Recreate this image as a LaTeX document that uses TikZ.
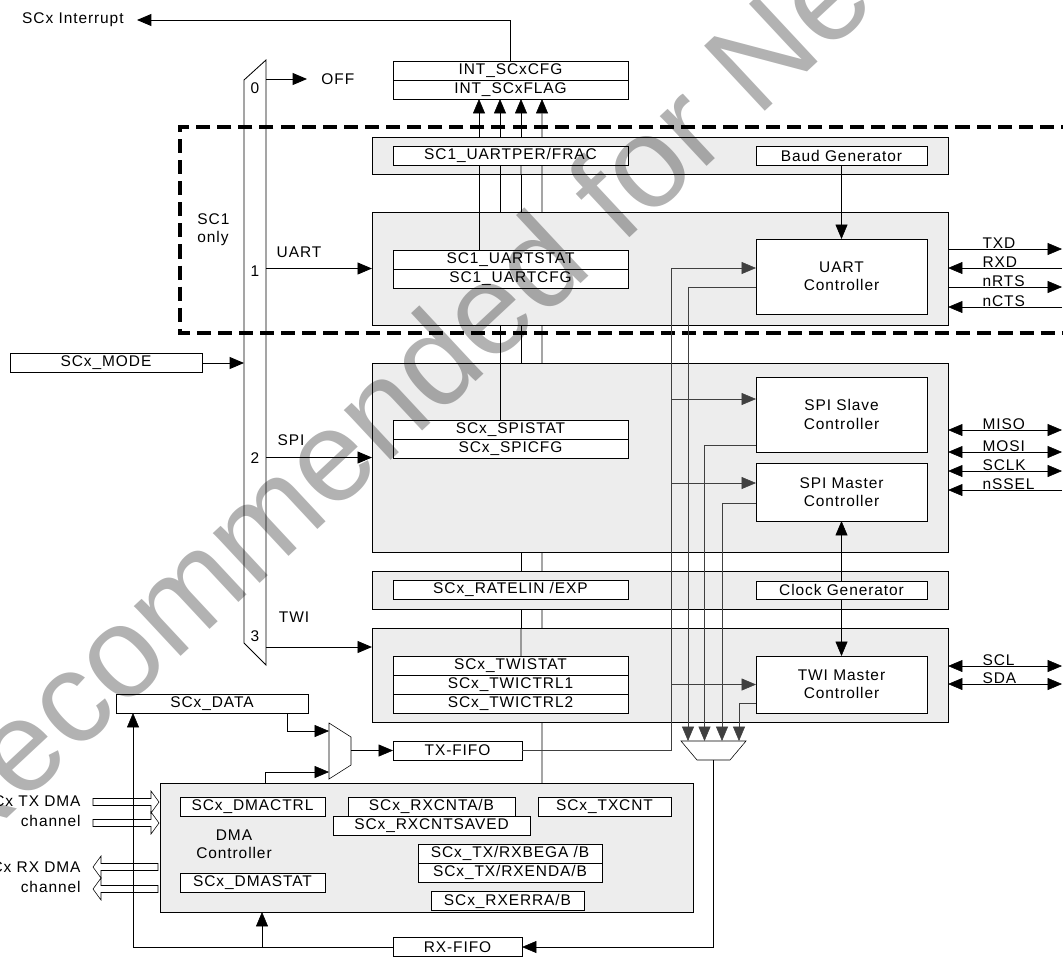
\documentclass[tikz,border=0pt]{standalone}
\usepackage{fontspec}
\setmainfont{Liberation Sans}[LetterSpace=6]
\newfontfamily\wmfont{Liberation Sans}
\usetikzlibrary{positioning,arrows.meta,calc,backgrounds}

\begin{document}
\begin{tikzpicture}[
x=0.025cm, y=-0.025cm,
font=\fontsize{11}{13}\selectfont,
line width=0.6pt,
blk/.style={draw, fill=gray!14, inner sep=0pt, outer sep=0pt, minimum width=14.4cm},
reg/.style={draw, fill=white, inner sep=0pt, outer sep=0pt, minimum height=0.475cm},
ctl/.style={draw, fill=white, align=center, inner sep=0pt, outer sep=0pt, minimum width=4.275cm},
lbl/.style={inner sep=0pt},
arr/.style={-{Triangle[length=0.36cm, width=0.3cm]}},
dbl/.style={{Triangle[length=0.36cm, width=0.3cm]}-{Triangle[length=0.36cm, width=0.3cm]}},
bus/.style={draw=black!75},
sc1/.style={line width=2.8pt, dash pattern=on 10pt off 5pt}
]
\useasboundingbox (0,0) rectangle (1063,956);
\clip (0,0) rectangle (1063,956);

% gray blocks
\node[blk, minimum height=0.925cm] (perblk) at (660,155.5) {};
\node[blk, minimum height=2.825cm] (uartblk) at (660,268.5) {};
\node[blk, minimum height=4.725cm] (spiblk) at (660,457.5) {};
\node[blk, minimum height=0.95cm] (rateblk) at (660,590) {};
\node[blk, minimum height=2.35cm] (twiblk) at (660,675) {};
\node[blk, minimum width=13.325cm, minimum height=3.225cm] (dma) at (426.5,847.5) {};

% registers
\node[reg, minimum width=5.875cm] (cfg) at (510.5,70.5) {INT\_SCxCFG};
\node[reg, minimum width=5.875cm, below=0pt of cfg] (flag) {INT\_SCxFLAG};
\node[reg, minimum width=5.875cm] (perfrac) at (510.5,155.5) {SC1\_UARTPER/FRAC};
\node[reg, minimum width=5.875cm] (uartstat) at (510.5,259.5) {SC1\_UARTSTAT};
\node[reg, minimum width=5.875cm, below=0pt of uartstat] (uartcfg) {SC1\_UARTCFG};
\node[reg, minimum width=5.875cm] (spistat) at (510.5,429.5) {SCx\_SPISTAT};
\node[reg, minimum width=5.875cm, below=0pt of spistat] (spicfg) {SCx\_SPICFG};
\node[reg, minimum width=5.875cm] (ratelin) at (510.5,589.5) {SCx\_RATELIN /EXP};
\node[reg, minimum width=5.875cm] (twistat) at (510.5,666) {SCx\_TWISTAT};
\node[reg, minimum width=5.875cm, below=0pt of twistat] (twictrl1) {SCx\_TWICTRL1};
\node[reg, minimum width=5.875cm, below=0pt of twictrl1] (twictrl2) {SCx\_TWICTRL2};

% controllers
\node[reg, minimum width=4.275cm] (baud) at (841.5,155.5) {Baud Generator};
\node[ctl, minimum height=1.875cm] (uartctl) at (841.5,276.5) {UART\\Controller};
\node[ctl, minimum height=1.875cm] (slavectl) at (841.5,414.5) {SPI Slave\\Controller};
\node[ctl, minimum height=1.45cm] (masterctl) at (841.5,492) {SPI Master\\Controller};
\node[reg, minimum width=4.275cm, minimum height=0.45cm] (clkgen) at (841.5,590) {Clock Generator};
\node[ctl, minimum height=1.425cm] (twictl) at (841.5,684.5) {TWI Master\\Controller};

% left side and fifos
\node[reg, minimum width=4.8cm] (mode) at (106,363) {SCx\_MODE};
\node[reg, minimum width=4.8cm] (data) at (212,703.5) {SCx\_DATA};
\node[reg, minimum width=3.225cm] (txfifo) at (457.5,750.5) {TX-FIFO};
\node[reg, minimum width=3.225cm] (rxfifo) at (457.5,947) {RX-FIFO};

% dma registers
\node[reg, minimum width=3.625cm] (dmactrl) at (252.5,806.5) {SCx\_DMACTRL};
\node[reg, minimum width=3.625cm] (dmastat) at (252.5,883) {SCx\_DMASTAT};
\node[reg, minimum width=4.175cm] (rxcnt) at (431.5,806.5) {SCx\_RXCNTA/B};
\node[reg, minimum width=4.925cm, below=0pt of rxcnt] (rxsaved) {SCx\_RXCNTSAVED};
\node[reg, minimum width=3.325cm] (txcnt) at (604.5,806.5) {SCx\_TXCNT};
\node[reg, minimum width=4.6cm] (txbeg) at (510,853.5) {SCx\_TX/RXBEGA /B};
\node[reg, minimum width=4.6cm, below=0pt of txbeg] (txend) {SCx\_TX/RXENDA/B};
\node[reg, minimum width=3.825cm] (rxerr) at (507.5,901) {SCx\_RXERRA/B};
\node[align=center] (dmatxt) at (234,844) {DMA\\Controller};

% labels
\node[anchor=east, inner xsep=0.325cm, inner ysep=0pt] (intr) at (137,20) {SCx Interrupt};
\node[anchor=north west, align=left, lbl] (sc1txt) at (197,213) {SC1\\only};
\node[anchor=west, inner xsep=0.35cm, inner ysep=0pt] (off) at (307,79) {OFF};
\node (n0) at (255,88) {0};
\node (n1) at (255,271) {1};
\node (n2) at (255,458) {2};
\node (n3) at (255,636) {3};
\node (luart) at (299,252) {UART};
\node (lspi) at (291,440) {SPI};
\node (ltwi) at (294,617) {TWI};
\node[anchor=east, align=right, lbl, font=\fontsize{11}{14}\selectfont] (txch) at (81,811) {SCx TX DMA\\channel};
\node[anchor=east, align=right, lbl, font=\fontsize{11}{14}\selectfont] (rxch) at (81,877) {SCx RX DMA\\channel};

% mode mux
\draw (244,80) -- (266,60) -- (266,665) -- (244,643) -- cycle;
\coordinate (m0) at (266,79);
\coordinate (m3) at (266,647);
\coordinate (min) at (244,363);
\draw[arr] (m0) -- (off.west);
\draw[arr] (uartblk.west -| m0) -- (uartblk.west);
\draw[arr] (spiblk.west -| m0) -- (spiblk.west);
\draw[arr] (m3) -- (m3 -| twiblk.west);
\draw[arr] (mode) -- (min);

% sc1 only frame
\draw[sc1] (1075,127) -- (180,127) -- (180,333) -- (1075,333);

% interrupt bus
\draw[arr] (cfg.north) |- (intr.east);
\begin{pgfonlayer}{background}
\draw[arr] ($(uartstat.north)+(-31.5,0)$) -- ($(flag.south)+(-31.5,0)$);
\draw[arr] ($(spistat.north)+(-10.5,0)$) -- ($(flag.south)+(-10.5,0)$);
\draw[arr] ($(twistat.north)+(10.5,0)$) -- ($(flag.south)+(10.5,0)$);
\draw[arr] (dma.north -| 542,0) -- ($(flag.south)+(31.5,0)$);
\end{pgfonlayer}
\foreach \dx in {-31.5,-10.5,10.5,31.5}
  \draw ($(perfrac.south)+(\dx,0)$) -- ($(perblk.south)+(\dx-149.5,0)$);
\draw ($(uartstat.north)+(-31.5,0)$) -- (uartblk.north -| 479,0);
\draw ($(spistat.north)+(-10.5,0)$) -- (spiblk.north -| 500,0);
\draw ($(twistat.north)+(10.5,0)$) -- (twiblk.north -| 521,0);

% generators
\draw[arr] (baud) -- (uartctl);
\draw[arr] (clkgen) -- (masterctl);
\draw[arr] (clkgen) -- (twictl);

% pins
\coordinate (edge) at (1062,0);
\draw[arr] (uartblk.east |- 0,249) -- (edge |- 0,249) node[lbl, anchor=south west, pos=0.3, name=txd] {TXD};
\draw[arr] (edge |- 0,268) -- (uartblk.east |- 0,268) node[lbl, anchor=south west, pos=0.7, name=rxd] {RXD};
\draw[arr] (uartblk.east |- 0,287) -- (edge |- 0,287) node[lbl, anchor=south west, pos=0.3, name=nrts] {nRTS};
\draw[arr] (edge |- 0,307) -- (uartblk.east |- 0,307) node[lbl, anchor=south west, pos=0.7, name=ncts] {nCTS};
\draw[dbl] (spiblk.east |- 0,430) -- (edge |- 0,430) node[lbl, anchor=south west, pos=0.3, name=miso] {MISO};
\draw[dbl] (spiblk.east |- 0,452) -- (edge |- 0,452) node[lbl, anchor=south west, pos=0.3, name=mosi] {MOSI};
\draw[dbl] (spiblk.east |- 0,471) -- (edge |- 0,471) node[lbl, anchor=south west, pos=0.3, name=sclk] {SCLK};
\draw[arr] (edge |- 0,490) -- (spiblk.east |- 0,490) node[lbl, anchor=south west, pos=0.7, name=nssel] {nSSEL};
\draw[dbl] (twiblk.east |- 0,666) -- (edge |- 0,666) node[lbl, anchor=south west, pos=0.3, name=scl] {SCL};
\draw[dbl] (twiblk.east |- 0,684) -- (edge |- 0,684) node[lbl, anchor=south west, pos=0.3, name=sda] {SDA};

% rx mux
\draw (681,741) -- (746,741) -- (730,760) -- (697,760) -- cycle;
\coordinate (r1) at (688,741);
\coordinate (r2) at (704.5,741);
\coordinate (r3) at (722,741);
\coordinate (r4) at (739,741);
\coordinate (rout) at (713.5,760);

% tx and rx paths
\draw[arr, bus] (txfifo.east) -| (671,268) -- (uartctl.west |- 0,268);
\draw[arr, bus] (671,399) -- (slavectl.west |- 0,399);
\draw[arr, bus] (671,483) -- (masterctl.west |- 0,483);
\draw[arr, bus] (671,684.5) -- (twictl.west);
\draw[arr, bus] (uartctl.west |- 0,287) -| (r1);
\draw[arr, bus] (slavectl.west |- 0,445) -| (r2);
\draw[arr, bus] (masterctl.west |- 0,503) -| (r3);
\draw[arr, bus] (twictl.west |- 0,703) -| (r4);
\draw[arr] (rout) |- (rxfifo.east);

% tx mux
\draw (329,723) -- (351,737) -- (351,765) -- (329,779) -- cycle;
\coordinate (tin1) at (329,731);
\coordinate (tin2) at (329,772);
\coordinate (tout) at (351,750.5);
\draw[arr] ($(data.south)+(75,0)$) |- (tin1);
\draw[arr] (dma.north -| 265,0) |- (tin2);
\draw[arr] (tout) -- (txfifo);

% dma side
\coordinate (dj) at (262,947);
\draw[arr] (rxfifo.west) -| (data.south -| 133,0);
\draw[arr] (dj) -- (dma.south -| 262,0);
\foreach \y in {802,823}
  \draw (93,\y-3.5) -- (151,\y-3.5) -- (151,\y-11) -- (159,\y) -- (151,\y+11) -- (151,\y+3.5) -- (93,\y+3.5) -- cycle;
\foreach \y in {867,889}
  \draw (158,\y-3.5) -- (101,\y-3.5) -- (101,\y-11) -- (93,\y) -- (101,\y+11) -- (101,\y+3.5) -- (158,\y+3.5) -- cycle;

% watermark
\node[rotate=43, font=\wmfont\fontsize{92}{100}\selectfont, opacity=0.3] (wm) at (525,290) {Not Recommended for New Designs};
\end{tikzpicture}
\end{document}
